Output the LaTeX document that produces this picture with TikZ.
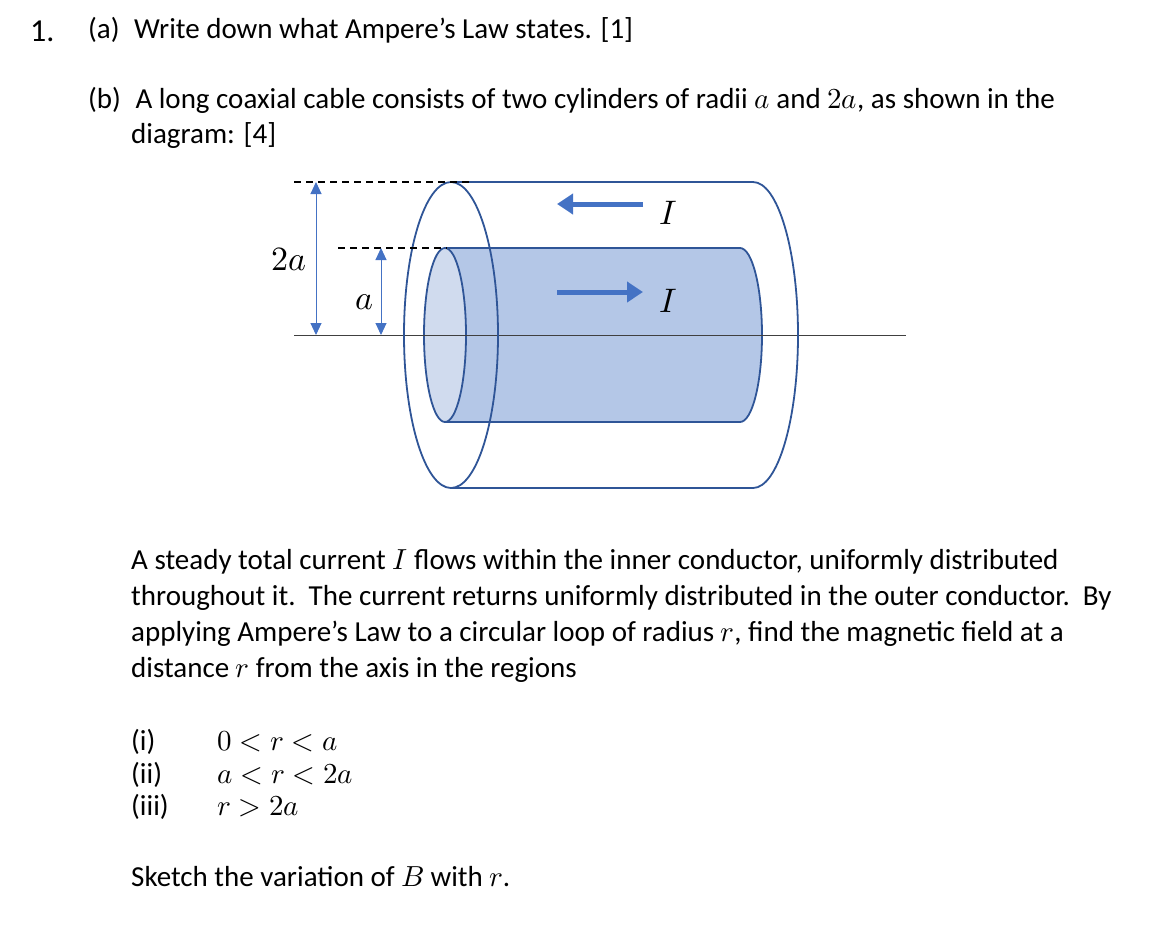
\documentclass[tikz,border=0pt]{standalone}
\usepackage{fontspec}
\usepackage{unicode-math}
\setmainfont{Carlito}
\setmathfont{Latin Modern Math}
\usetikzlibrary{arrows.meta}
\definecolor{dk}{HTML}{2F5597}
\definecolor{md}{HTML}{4472C4}
\definecolor{body}{HTML}{B4C7E7}
\definecolor{face}{HTML}{D0DBEE}
\tikzset{txt/.style={anchor=base west,inner sep=0pt,font=\fontsize{29}{33}\selectfont},
lbl/.style={inner sep=0pt,font=\fontsize{34}{38}\selectfont},
cab/.style={draw=dk,line width=1.8pt},
dim/.style={md,line width=1pt,{Triangle[length=12pt,width=11pt]}-{Triangle[length=12pt,width=11pt]}},
cur/.style={md,line width=5pt,-{Triangle[length=16pt,width=20pt]}},
dsh/.style={black,line width=1.3pt,dash pattern=on 7pt off 5pt}}
\begin{document}
\begin{tikzpicture}[x=1pt,y=-1pt]
\useasboundingbox (0,0) rectangle (1168,935);
% texts
\node[txt,font=\fontsize{32}{36}\selectfont] (n1) at (30,41) {1.};
\node[txt] (qa) at (88,38) {(a)\enspace Write down what Ampere’s Law states. [1]};
\node[txt] (qb) at (88,108) {(b)\enspace A long coaxial cable consists of two cylinders of radii $a$ and $2a$, as shown in the};
\node[txt] (qb2) at (131,143) {diagram: [4]};
\node[txt] (p1) at (131,569) {A steady total current $I$ flows within the inner conductor, uniformly distributed};
\node[txt] (p2) at (131,605) {throughout it.\ \ The current returns uniformly distributed in the outer conductor.\ \ By};
\node[txt] (p3) at (131,641) {applying Ampere’s Law to a circular loop of radius $r$, find the magnetic field at a};
\node[txt] (p4) at (131,677) {distance $r$ from the axis in the regions};
\node[txt] (i1) at (131,750) {(i)};
\node[txt] (i2) at (131,783) {(ii)};
\node[txt] (i3) at (131,815) {(iii)};
\node[txt] (m1) at (217,750) {$0<r<a$};
\node[txt] (m2) at (217,783) {$a<r<2a$};
\node[txt] (m3) at (217,815) {$r>2a$};
\node[txt] (sk) at (131,886) {Sketch the variation of $B$ with $r$.};
% inner cylinder
\fill[body] (445,248) -- (740,248) arc[start angle=-90,end angle=90,x radius=22,y radius=87] -- (445,422) -- cycle;
\fill[face,draw=dk,line width=1.8pt] (445,335) ellipse[x radius=21,y radius=87];
\draw[cab] (445,248) -- (740,248) arc[start angle=-90,end angle=90,x radius=22,y radius=87] -- (445,422);
% axis
\draw[black!75,line width=1pt] (294,335) -- (906,335);
% outer cylinder
\draw[cab] (451,335) ellipse[x radius=47,y radius=153];
\draw[cab] (451,182) -- (753,182) arc[start angle=-90,end angle=90,x radius=45,y radius=153] -- (451,488);
% dimensions
\coordinate (t2) at (316,182); \coordinate (b2) at (316,335);
\coordinate (t1) at (381,248); \coordinate (b1) at (381,335);
\draw[dsh] (294,182) -- (470,182);
\draw[dsh] (338,248) -- (447,248);
\draw[dim] (t2) -- (b2);
\draw[dim] (t1) -- (b1);
\node[lbl] (l2) at (289,259) {$2a$};
\node[lbl] (l1) at (364,302) {$a$};
% currents
\coordinate (u1) at (643,204); \coordinate (u2) at (557,204);
\coordinate (d1) at (557,292); \coordinate (d2) at (643,292);
\draw[cur] (u1) -- (u2);
\draw[cur] (d1) -- (d2);
\node[lbl] (I1) at (668,213) {$I$};
\node[lbl] (I2) at (668,301) {$I$};
\end{tikzpicture}
\end{document}
